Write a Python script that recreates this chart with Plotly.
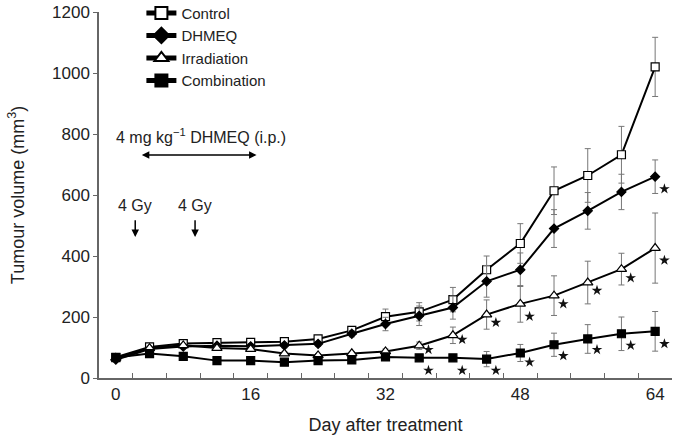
import plotly.graph_objects as go

days = [0, 4, 8, 12, 16, 20, 24, 28, 32, 36, 40, 44, 48, 52, 56, 60, 64]

control = [68, 102, 113, 116, 117, 119, 128, 156, 201, 217, 257, 355, 441, 614, 664, 732, 1020]
control_err = [5, 6, 8, 8, 8, 8, 10, 12, 25, 30, 40, 45, 65, 78, 88, 93, 97]

dhmeq = [60, 95, 103, 106, 104, 107, 112, 145, 177, 204, 231, 317, 355, 490, 548, 610, 660]
dhmeq_err = [5, 6, 7, 7, 8, 8, 8, 10, 22, 32, 38, 52, 55, 62, 60, 58, 55]

irradiation = [66, 98, 107, 98, 95, 80, 74, 81, 87, 106, 140, 208, 243, 270, 313, 357, 426]
irradiation_err = [5, 5, 6, 6, 6, 6, 6, 6, 8, 12, 27, 48, 60, 65, 70, 52, 115]

combination = [67, 80, 71, 57, 57, 52, 57, 59, 69, 66, 66, 62, 82, 109, 128, 145, 153]
combination_err = [5, 5, 5, 4, 4, 4, 4, 4, 8, 8, 10, 25, 28, 38, 47, 55, 65]

# significance markers (*)
star_days = [36, 40, 44, 48, 52, 56, 60, 64,
             36, 40, 44, 48, 52, 56, 60, 64,
             64]
star_values = [93, 126, 182, 202, 243, 287, 328, 386,
               25, 25, 25, 52, 73, 93, 107, 112,
               620]

x_ticks = [0, 16, 32, 48, 64]
y_ticks = [0, 200, 400, 600, 800, 1000, 1200]

FONT = "Liberation Sans, Arial, sans-serif"
TXT = "#222222"
AX = "#666666"

fig = go.Figure()

def add_series(name, y, err, symbol, fill, size):
    fig.add_trace(go.Scatter(
        x=days, y=y, name=name, mode="lines+markers",
        line=dict(color="black", width=2),
        marker=dict(symbol=symbol, size=size, color=fill,
                    line=dict(color="black", width=1.2)),
        error_y=dict(type="data", array=err, visible=True,
                     color="#777777", thickness=1, width=3),
    ))

add_series("Control", control, control_err, "square", "white", 8)
add_series("DHMEQ", dhmeq, dhmeq_err, "diamond", "black", 7)
add_series("Irradiation", irradiation, irradiation_err, "triangle-up", "white", 9)
add_series("Combination", combination, combination_err, "square", "black", 8)

fig.add_trace(go.Scatter(
    x=[d + 1.1 for d in star_days], y=star_values, mode="markers",
    marker=dict(symbol="star", size=8, color="#111111"),
    showlegend=False, hoverinfo="skip",
))

# annotations
fig.add_annotation(x=10.1, y=793, text="4 mg kg<sup>−1</sup> DHMEQ (i.p.)",
                   showarrow=False, font=dict(family=FONT, size=16, color=TXT))
fig.add_annotation(x=16.7, y=731, ax=2.9, ay=731, axref="x", ayref="y",
                   xref="x", yref="y", text="", showarrow=True,
                   arrowhead=2, arrowside="end+start", arrowsize=1,
                   arrowwidth=1.5, arrowcolor="black")
for gx in [2.3, 9.4]:
    fig.add_annotation(x=gx, y=567, text="4 Gy", showarrow=False,
                       font=dict(family=FONT, size=16, color=TXT))
    fig.add_annotation(x=gx, y=462, ax=gx, ay=522, axref="x", ayref="y",
                       xref="x", yref="y", text="", showarrow=True,
                       arrowhead=2, arrowsize=1, arrowwidth=1.5,
                       arrowcolor="black")

fig.update_layout(
    width=673, height=435,
    margin=dict(l=99, r=1, t=12, b=57, autoexpand=False),
    paper_bgcolor="white", plot_bgcolor="white",
    font=dict(family=FONT, size=17, color=TXT),
    showlegend=True,
    legend=dict(x=0.074, y=1.042, xanchor="left", yanchor="top",
                bgcolor="rgba(0,0,0,0)", borderwidth=0,
                font=dict(family=FONT, size=15, color=TXT),
                tracegroupgap=0, itemsizing="constant"),
    xaxis=dict(
        range=[-2, 66], tickmode="array", tickvals=x_ticks,
        ticktext=[str(v) for v in x_ticks], automargin=False,
        ticks="", showgrid=False, zeroline=False,
        showline=True, linecolor=AX, linewidth=1.5,
        tickfont=dict(family=FONT, size=17, color=TXT),
        minor=dict(ticks="inside", ticklen=5, tickcolor=AX, tickwidth=1.2,
                   tickmode="array", tickvals=list(range(2, 63, 4)),
                   showgrid=False),
        title=dict(text="Day after treatment", standoff=15,
                   font=dict(family=FONT, size=18, color=TXT)),
    ),
    yaxis=dict(
        range=[0, 1200], tickmode="array", tickvals=y_ticks, automargin=False,
        ticks="outside", ticklen=4, tickcolor=AX, tickwidth=1.2,
        showgrid=False, zeroline=False, ticklabeloverflow="allow",
        showline=True, linecolor=AX, linewidth=1.5,
        tickfont=dict(family=FONT, size=17, color=TXT),
        title=dict(text="Tumour volume (mm<sup>3</sup>)", standoff=23,
                   font=dict(family=FONT, size=18, color=TXT)),
    ),
)

# remove the browser's default 8 px page margin so the figure fills the window
fig.write_html("out.html", config={"displayModeBar": False},
               post_script="document.body.style.margin='0';")
